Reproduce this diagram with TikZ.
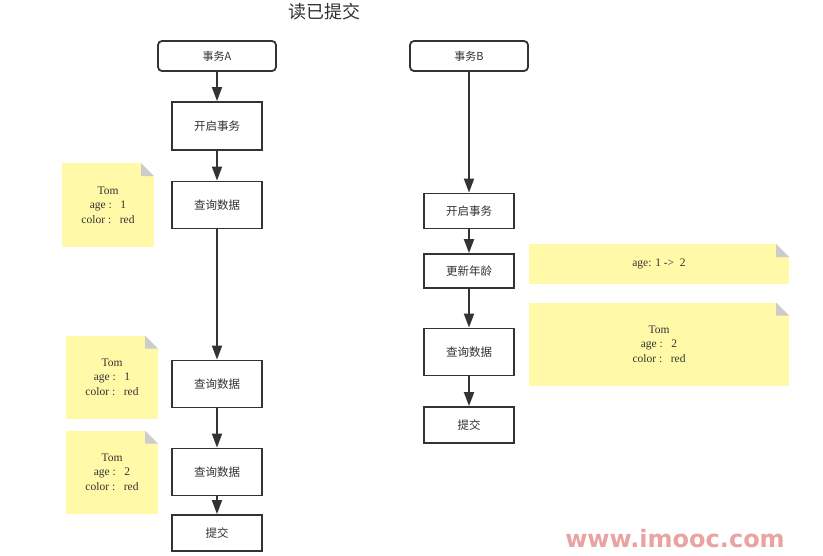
\documentclass[tikz,border=0pt]{standalone}
\usepackage{fontspec}
\setmainfont{Liberation Serif}
\newfontfamily\cjk{Noto Sans CJK SC}
\newfontfamily\markfont{DejaVu Sans}
\usepackage{xcolor}
\usetikzlibrary{arrows.meta,positioning}

\definecolor{notefill}{HTML}{FFF9A8}
\definecolor{foldgray}{HTML}{CCCCCC}
\definecolor{linegray}{HTML}{333333}
\definecolor{markpink}{HTML}{E9A3A3}

\begin{document}
\begin{tikzpicture}[x=1pt, y=-1pt, ->, >={Triangle[width=10pt,length=14pt]}, line width=1.8pt, color=linegray,
  every node/.style={font=\fontsize{11.5}{14.5}\selectfont},
  txbox/.style={draw, rounded corners=4pt, fill=white, minimum width=118pt, minimum height=30pt, font=\cjk\fontsize{11}{14}\selectfont},
  procbox/.style={draw, fill=white, minimum width=90pt, minimum height=47pt, font=\cjk\fontsize{11.5}{14}\selectfont},
  note/.style={fill=notefill, inner sep=0pt, outer sep=0pt, align=center,
    path picture={
      \fill[-, white] ([xshift=-13pt]path picture bounding box.north east) -- (path picture bounding box.north east) -- ++(0,13) -- cycle;
      \fill[-, foldgray] ([xshift=-13pt]path picture bounding box.north east) -- ++(0,13) -- ++(13,0) -- cycle;
    }}]
  \useasboundingbox (0,0) rectangle (823,555);

  \node[font=\cjk\fontsize{18}{20}\selectfont] (Title) at (324,12) {读已提交};

  % transaction A
  \node[txbox] (TxA) at (217,56) {事务A};
  \node[procbox, minimum height=48pt] (BeginA) at (217,126) {开启事务};
  \node[procbox] (QueryA1) at (217,205) {查询数据};
  \node[procbox] (QueryA2) at (217,384) {查询数据};
  \node[procbox] (QueryA3) at (217,472) {查询数据};
  \node[procbox, minimum height=36pt] (CommitA) at (217,533) {提交};

  % transaction B
  \node[txbox] (TxB) at (469,56) {事务B};
  \node[procbox, minimum height=35pt] (BeginB) at (469,211) {开启事务};
  \node[procbox, minimum height=34pt] (UpdateB) at (469,271) {更新年龄};
  \node[procbox] (QueryB) at (469,352) {查询数据};
  \node[procbox, minimum height=36pt] (CommitB) at (469,425) {提交};

  % notes
  \node[note, minimum width=92pt, minimum height=84pt] (NoteA1) at (108,205) {Tom\\age :\ \ \ 1\\color :\ \ \ red};
  \node[note, minimum width=92pt, minimum height=83pt] (NoteA2) at (112,377) {Tom\\age :\ \ \ 1\\color :\ \ \ red};
  \node[note, minimum width=92pt, minimum height=83pt] (NoteA3) at (112,472) {Tom\\age :\ \ \ 2\\color :\ \ \ red};
  \node[note, minimum width=260pt, minimum height=40pt] (NoteB1) at (659,264) {age: 1 ->\ \ 2};
  \node[note, minimum width=260pt, minimum height=83pt] (NoteB2) at (659,344) {Tom\\age :\ \ \ 2\\color :\ \ \ red};

  \path
    (TxA) edge (BeginA)
    (BeginA) edge (QueryA1)
    (QueryA1) edge (QueryA2)
    (QueryA2) edge (QueryA3)
    (QueryA3) edge (CommitA)
    (TxB) edge (BeginB)
    (BeginB) edge (UpdateB)
    (UpdateB) edge (QueryB)
    (QueryB) edge (CommitB);

  \node[anchor=base, inner sep=0pt, font=\markfont\bfseries\fontsize{24}{24}\selectfont, text=markpink] (Mark) at (675,547) {www.imooc.com};
\end{tikzpicture}
\end{document}
